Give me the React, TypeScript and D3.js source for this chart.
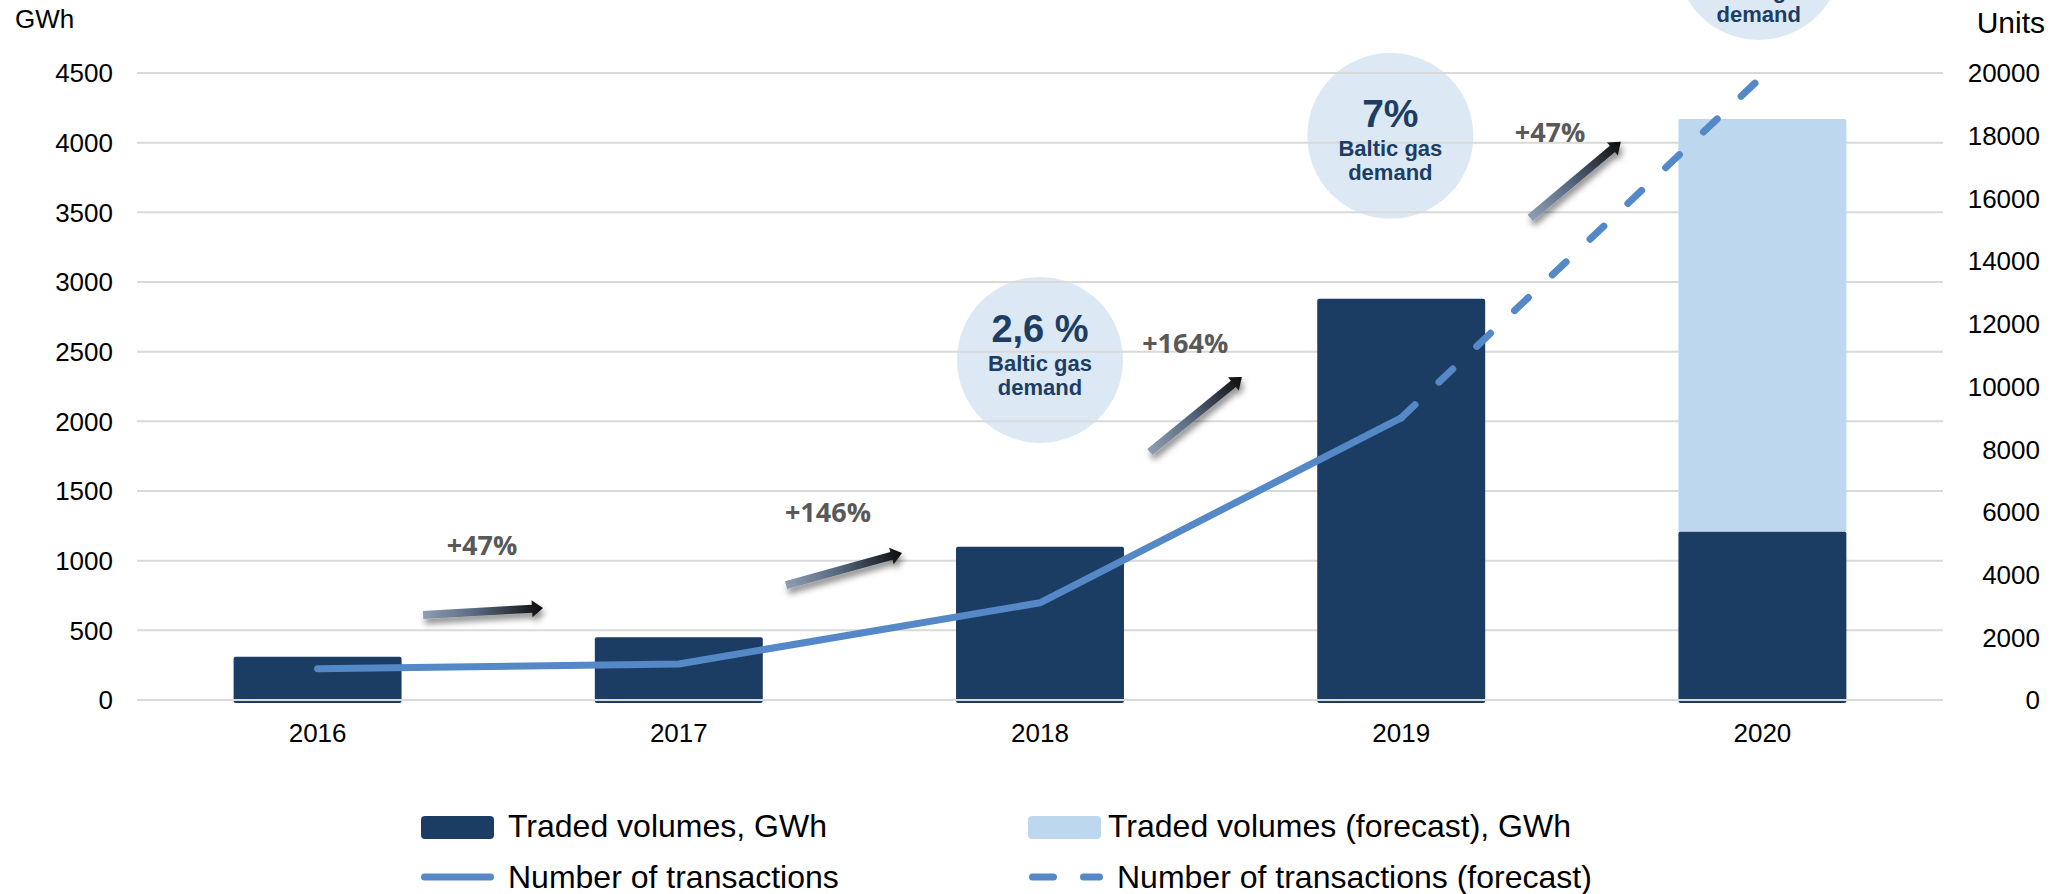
import React from "react";
import * as d3 from "d3";

// chart data
const years = ["2016", "2017", "2018", "2019", "2020"];
const tradedVolumes = [310, 450, 1100, 2880, 1210];
const tradedForecast = [0, 0, 0, 0, 2960];
const transactions = [1000, 1150, 3100, 9000];
const transactionsForecast = [9000, 19900]; // 2019 -> 2020
const gwhTicks = [0, 500, 1000, 1500, 2000, 2500, 3000, 3500, 4000, 4500];
const unitTicks = [0, 2000, 4000, 6000, 8000, 10000, 12000, 14000, 16000, 18000, 20000];
const growthLabels = ["+47%", "+146%", "+164%", "+47%"];
const shareLabels = ["2,6 %", "7%", ""];
const legendLabels = [
  "Traded volumes, GWh",
  "Traded volumes (forecast), GWh",
  "Number of transactions",
  "Number of transactions (forecast)",
];

// annotation placement (category index offset, GWh level)
const arrowPlaces = [
  { from: [0.292, 610], to: [0.624, 660], label: [0.455, 1041] },
  { from: [1.297, 825], to: [1.618, 1055], label: [1.413, 1278] },
  { from: [2.304, 1780], to: [2.559, 2319], label: [2.402, 2491] },
  { from: [3.357, 3460], to: [3.608, 4006], label: [3.412, 4006] },
];
const bubblePlaces = [
  { at: [2.0, 2441], dy: -18 },
  { at: [2.97, 4049], dy: -9 },
  { at: [3.99, 5333], dy: 12 },
];

const W = 2065;
const H = 894;
const plot = { left: 137, right: 1943, top: 73, bottom: 700 };

const DARK = "#1C3D63";
const LIGHT = "#BDD7EE";
const LINE = "#5588C7";
const GRID = "#D9D9D9";
const FONT = "'Liberation Sans', Arial, sans-serif";

export default function App() {
  const x = d3
    .scaleBand()
    .domain(years)
    .range([plot.left, plot.right])
    .paddingInner(0.535)
    .paddingOuter(0.2675);
  const yL = d3.scaleLinear().domain([0, 4500]).range([plot.bottom, plot.top]);
  const yR = d3.scaleLinear().domain([0, 20000]).range([plot.bottom, plot.top]);

  // centre of category i (fractional allowed)
  const cx = (i: number) => (x(years[0]) as number) + x.bandwidth() / 2 + i * x.step();

  const line = d3
    .line<number>()
    .x((_, i) => cx(i))
    .y((d) => yR(d));
  const lineForecast = d3
    .line<number>()
    .x((_, i) => cx(i + transactions.length - 1))
    .y((d) => yR(d));

  return (
    <svg
      width={W}
      height={H}
      style={{ position: "absolute", left: 0, top: 0, background: "#fff" }}
      fontFamily={FONT}
    >
      <defs>
        <linearGradient id="arrowGrad" x1="0" y1="0" x2="1" y2="0">
          <stop offset="0" stopColor="#8E9DB1" />
          <stop offset="0.45" stopColor="#56677E" />
          <stop offset="1" stopColor="#0C0C0C" />
        </linearGradient>
        <filter id="shadow" x="-20%" y="-50%" width="140%" height="200%">
          <feDropShadow dx="2" dy="5" stdDeviation="3" floodColor="#000" floodOpacity="0.45" />
        </filter>
      </defs>

      {/* bubbles */}
      {bubblePlaces.map((b, i) => (
        <circle key={i} cx={cx(b.at[0])} cy={yL(b.at[1])} r={83} fill="#DCE9F5" />
      ))}

      {/* gridlines */}
      {gwhTicks.map((t) => (
        <line
          key={t}
          x1={plot.left}
          x2={plot.right}
          y1={yL(t)}
          y2={yL(t)}
          stroke={GRID}
          strokeWidth={2}
        />
      ))}

      {/* bars */}
      {years.map((yr, i) => (
        <g key={yr}>
          <rect
            x={x(yr)}
            width={x.bandwidth()}
            y={yL(tradedVolumes[i])}
            height={yL(0) - yL(tradedVolumes[i]) + 3}
            rx={2}
            fill={DARK}
          />
          {tradedForecast[i] > 0 && (
            <rect
              x={x(yr)}
              width={x.bandwidth()}
              y={yL(tradedVolumes[i] + tradedForecast[i])}
              height={yL(tradedVolumes[i]) - yL(tradedVolumes[i] + tradedForecast[i])}
              rx={2}
              fill={LIGHT}
            />
          )}
        </g>
      ))}
      <line x1={plot.left} x2={plot.right} y1={yL(0)} y2={yL(0)} stroke={GRID} strokeWidth={2} />

      {/* transactions */}
      <path
        d={line(transactions) || undefined}
        fill="none"
        stroke={LINE}
        strokeWidth={7}
        strokeLinecap="round"
        strokeLinejoin="round"
      />
      <path
        d={lineForecast(transactionsForecast) || undefined}
        fill="none"
        stroke={LINE}
        strokeWidth={7}
        strokeLinecap="round"
        strokeDasharray="19 33"
      />

      {/* left axis */}
      <text x={15} y={28} fontSize={26}>GWh</text>
      {gwhTicks.map((t) => (
        <text key={t} x={113} y={yL(t)} dy="0.358em" textAnchor="end" fontSize={26}>
          {t}
        </text>
      ))}
      {/* right axis */}
      <text x={2045} y={33} textAnchor="end" fontSize={30}>Units</text>
      {unitTicks.map((t) => (
        <text key={t} x={2040} y={yR(t)} dy="0.358em" textAnchor="end" fontSize={26}>
          {t}
        </text>
      ))}
      {/* x axis */}
      {years.map((yr) => (
        <text key={yr} x={(x(yr) as number) + x.bandwidth() / 2} y={742} textAnchor="middle" fontSize={26}>
          {yr}
        </text>
      ))}

      {/* growth arrows */}
      {arrowPlaces.map((a, i) => {
        const x0 = cx(a.from[0]);
        const y0 = yL(a.from[1]);
        const x1 = cx(a.to[0]);
        const y1 = yL(a.to[1]);
        const len = Math.hypot(x1 - x0, y1 - y0);
        const ang = (Math.atan2(y1 - y0, x1 - x0) * 180) / Math.PI;
        const hl = 11;
        const d = `M0,-4 L${len - hl},-4 L${len - hl},-8.5 L${len},0 L${len - hl},8.5 L${len - hl},4 L0,4 Z`;
        return (
          <g key={i}>
            <g filter="url(#shadow)">
              <g transform={`translate(${x0},${y0}) rotate(${ang})`}>
                <path d={d} fill="url(#arrowGrad)" />
              </g>
            </g>
            <text
              x={cx(a.label[0])}
              y={yL(a.label[1])}
              textAnchor="middle"
              fontFamily="'Open Sans', sans-serif"
              fontWeight={700}
              fontSize={27}
              fill="#595959"
            >
              {growthLabels[i]}
            </text>
          </g>
        );
      })}

      {/* bubble text */}
      {bubblePlaces.map((b, i) => {
        const bx = cx(b.at[0]);
        const by = yL(b.at[1]) + b.dy;
        return (
          <g key={i} fill="#1D3D63" fontWeight={700} textAnchor="middle">
            {shareLabels[i] && (
              <text x={bx} y={by} fontSize={i === 0 ? 38 : 39}>
                {shareLabels[i]}
              </text>
            )}
            <text x={bx} y={by + 29} fontSize={22}>Baltic gas</text>
            <text x={bx} y={by + 53} fontSize={22}>demand</text>
          </g>
        );
      })}

      {/* legend */}
      <g fontSize={32}>
        <rect x={421} y={816} width={73} height={23} rx={4} fill={DARK} />
        <text x={508} y={837}>{legendLabels[0]}</text>
        <rect x={1028} y={816} width={73} height={23} rx={4} fill={LIGHT} />
        <text x={1108} y={837}>{legendLabels[1]}</text>
        <line x1={424.5} x2={490.5} y1={877} y2={877} stroke={LINE} strokeWidth={7} strokeLinecap="round" />
        <text x={508} y={888}>{legendLabels[2]}</text>
        <line
          x1={1032.5}
          x2={1099.5}
          y1={877}
          y2={877}
          stroke={LINE}
          strokeWidth={7}
          strokeLinecap="round"
          strokeDasharray="21 30"
        />
        <text x={1117} y={888}>{legendLabels[3]}</text>
      </g>
    </svg>
  );
}
